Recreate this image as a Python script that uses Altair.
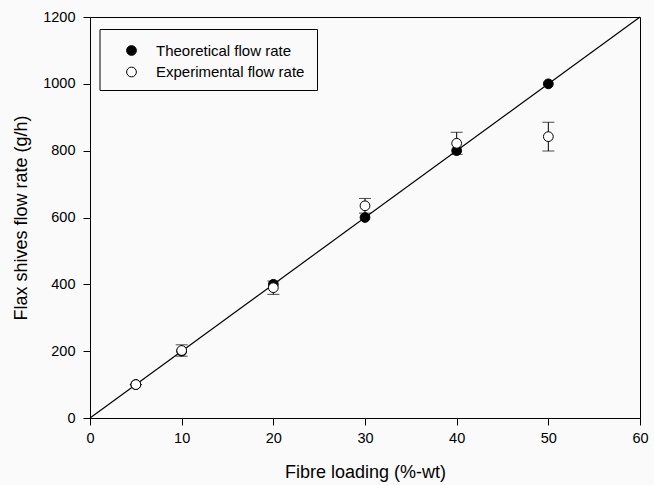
import altair as alt
import pandas as pd

# ---- data ----
loading = [5, 10, 20, 30, 40, 50]
theoretical = [100, 200, 400, 600, 800, 1000]
experimental = [100, 202, 390, 635, 822, 842]
exp_error = [0, 17, 20, 22, 33, 43]
line_x = [0, 60]
line_y = [0, 1200]
series_names = ["Theoretical flow rate", "Experimental flow rate"]
x_ticks = [0, 10, 20, 30, 40, 50, 60]
y_ticks = [0, 200, 400, 600, 800, 1000, 1200]

FONT = "Liberation Sans"
BG = "#fafafa"

pts = pd.DataFrame(
    [{"loading": l, "rate": v, "series": series_names[0], "ord": 0} for l, v in zip(loading, theoretical)]
    + [{"loading": l, "rate": v, "series": series_names[1], "ord": 1} for l, v in zip(loading, experimental)]
)
err = pd.DataFrame({
    "loading": loading,
    "lo": [v - e for v, e in zip(experimental, exp_error)],
    "hi": [v + e for v, e in zip(experimental, exp_error)],
})
line_df = pd.DataFrame({"loading": line_x, "rate": line_y})

xscale = alt.Scale(domain=[0, 60], nice=False, zero=False)
yscale = alt.Scale(domain=[0, 1200], nice=False, zero=False)

x_axis = alt.Axis(values=x_ticks, title="Fibre loading (%-wt)", grid=False, titlePadding=19,
                  format="d", labelFlush=False)
y_axis = alt.Axis(values=y_ticks, title="Flax shives flow rate (g/h)", grid=False, titlePadding=12,
                  format="d", labelPadding=8, labelFlush=False)

line = alt.Chart(line_df).mark_line(color="black", strokeWidth=1.2).encode(
    x=alt.X("loading:Q", scale=xscale, axis=x_axis),
    y=alt.Y("rate:Q", scale=yscale, axis=y_axis),
)

bars = alt.Chart(err).mark_rule(color="black", strokeWidth=1).encode(
    x=alt.X("loading:Q", scale=xscale),
    y=alt.Y("lo:Q", scale=yscale),
    y2="hi:Q",
)
caps_hi = alt.Chart(err).mark_tick(color="black", thickness=1, size=12, orient="horizontal").encode(
    x=alt.X("loading:Q", scale=xscale),
    y=alt.Y("hi:Q", scale=yscale),
)
caps_lo = alt.Chart(err).mark_tick(color="black", thickness=1, size=12, orient="horizontal").encode(
    x=alt.X("loading:Q", scale=xscale),
    y=alt.Y("lo:Q", scale=yscale),
)

points = alt.Chart(pts).mark_point(filled=False, shape="circle", size=95, stroke="black", strokeWidth=1, opacity=1).encode(
    x=alt.X("loading:Q", scale=xscale),
    y=alt.Y("rate:Q", scale=yscale),
    fill=alt.Fill(
        "series:N",
        scale=alt.Scale(domain=series_names, range=["black", "white"]),
        legend=alt.Legend(
            title=None, orient="none", legendX=34, legendY=26,
            padding=0, rowPadding=5.5, labelOffset=17, symbolSize=95,
            symbolStrokeColor="black", symbolStrokeWidth=1, symbolType="circle",
            labelFontSize=15, labelFont=FONT, labelColor="black", labelLimit=300,
        ),
    ),
    order=alt.Order("ord:Q"),
)

box = alt.Chart(pd.DataFrame({"a": [0]})).mark_rect(fill=BG, stroke="black", strokeWidth=1).encode(
    x=alt.value(10), x2=alt.value(227.5), y=alt.value(12.5), y2=alt.value(73.5)
)

chart = alt.layer(line, bars, caps_hi, caps_lo, box, points).properties(
    width=550, height=401,
    autosize=alt.AutoSizeParams(type="none"),
    padding={"left": 90, "top": 17, "right": 14, "bottom": 67},
    background=BG,
).configure_view(
    stroke="black", strokeWidth=1, fill=BG
).configure_axis(
    domainColor="black", tickColor="black", tickSize=7, tickWidth=1, domainWidth=1,
    labelFont=FONT, labelFontSize=14.5, labelColor="black", labelPadding=6,
    titleFont=FONT, titleFontSize=18, titleFontWeight="normal", titleColor="black",
)

chart.save("out.html", embed_options={"renderer": "svg", "actions": False})
